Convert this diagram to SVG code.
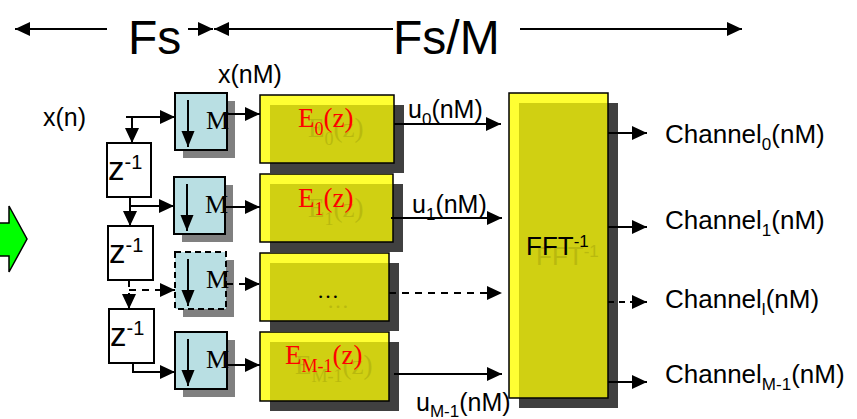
<svg xmlns="http://www.w3.org/2000/svg" width="857" height="419" viewBox="0 0 857 419">
<style>
.ln{stroke:#000;stroke-width:2;fill:none}
.dash{stroke-dasharray:7,6}
.sans{font-family:"Liberation Sans",Arial,sans-serif;fill:#000}
.serif{font-family:"Liberation Serif","Times New Roman",serif}
.mbox{fill:#b9dfe3;stroke:#000;stroke-width:2}
.msh{fill:#808080}
.zbox{fill:#fff;stroke:#000;stroke-width:2}
.ysh{fill:#404040}
.yb{fill:#ffff33}
.yo{fill:#d0d012}
.yst{fill:none;stroke:#000;stroke-width:1.5}
.et{fill:#ff0000;font-size:27px}
.gt{fill:#b9b90e}
.mt{font-size:26px;fill:#000}
</style>
<defs>
<marker id="ah" markerUnits="userSpaceOnUse" markerWidth="16" markerHeight="14" refX="15" refY="7" orient="auto">
<path d="M0,0 L15,7 L0,14 z" fill="#000"/>
</marker>
<marker id="ahs" markerUnits="userSpaceOnUse" markerWidth="14" markerHeight="16" refX="16" refY="6.5" orient="auto">
<path d="M0,0 L16,6.5 L0,13 z" fill="#000"/>
</marker>
</defs>

<!-- top rate annotations -->
<g id="rates">
<text class="sans" x="128" y="54" font-size="48">Fs</text>
<text class="sans" x="393" y="54" font-size="48">Fs/M</text>
</g>

<!-- green arrow -->
<g id="green-arrow">
<polygon points="-5,223 9,223 9,206 27,239 9,272 9,256 -5,256" fill="#00ff00" stroke="#000" stroke-width="1.5"/>
</g>

<!-- labels -->
<g id="labels">
<text class="sans" x="43" y="126" font-size="25">x(n)</text>
<text class="sans" x="218" y="83" font-size="25">x(nM)</text>
<text class="sans" x="408" y="118" font-size="25">u<tspan font-size="17" dy="7">0</tspan><tspan dy="-7">(nM)</tspan></text>
<text class="sans" x="412" y="213" font-size="25">u<tspan font-size="17" dy="7">1</tspan><tspan dy="-7">(nM)</tspan></text>
<text class="sans" x="416" y="411" font-size="25">u<tspan font-size="17" dy="6">M-1</tspan><tspan dy="-6">(nM)</tspan></text>
<text class="sans" x="665" y="143" font-size="26">Channel<tspan font-size="17" dy="7">0</tspan><tspan dy="-7">(nM)</tspan></text>
<text class="sans" x="665" y="229" font-size="26">Channel<tspan font-size="17" dy="7">1</tspan><tspan dy="-7">(nM)</tspan></text>
<text class="sans" x="665" y="308" font-size="26">Channel<tspan font-size="17" dy="7">l</tspan><tspan dy="-7">(nM)</tspan></text>
<text class="sans" x="665" y="383" font-size="26">Channel<tspan font-size="17" dy="7">M-1</tspan><tspan dy="-7">(nM)</tspan></text>
</g>

<!-- delay boxes -->
<g id="z1"><rect class="zbox" x="107" y="143" width="44" height="54"/><text class="sans" x="108" y="180" font-size="33">z<tspan font-size="20" dy="-11">-1</tspan></text></g>
<g id="z2"><rect class="zbox" x="108" y="226" width="45" height="54"/><text class="sans" x="109" y="263" font-size="33">z<tspan font-size="20" dy="-11">-1</tspan></text></g>
<g id="z3"><rect class="zbox" x="109" y="309" width="45" height="54"/><text class="sans" x="110" y="346" font-size="33">z<tspan font-size="20" dy="-11">-1</tspan></text></g>

<!-- decimators -->
<g id="m1"><rect class="msh" x="183" y="101" width="52" height="57"/><rect class="mbox" x="175" y="93" width="52" height="57"/>
<line class="ln" x1="188" y1="100" x2="188" y2="147" marker-end="url(#ahs)"/><text class="serif mt" x="206" y="129">M</text></g>
<g id="m2"><rect class="msh" x="182" y="185" width="51" height="57"/><rect class="mbox" x="174" y="177" width="51" height="57"/>
<line class="ln" x1="187" y1="184" x2="187" y2="231" marker-end="url(#ahs)"/><text class="serif mt" x="205" y="213">M</text></g>
<g id="m3"><rect class="msh" x="183" y="260" width="51" height="57"/><rect class="mbox" x="175" y="252" width="51" height="57" style="stroke-dasharray:6,4"/>
<line class="ln" x1="188" y1="259" x2="188" y2="306" marker-end="url(#ahs)"/><text class="serif mt" x="206" y="288">M</text></g>
<g id="m4"><rect class="msh" x="183" y="340" width="52" height="57"/><rect class="mbox" x="175" y="332" width="52" height="57"/>
<line class="ln" x1="188" y1="339" x2="188" y2="386" marker-end="url(#ahs)"/><text class="serif mt" x="206" y="368">M</text></g>

<!-- polyphase filters -->
<g id="e0">
<rect class="ysh" x="270" y="105" width="134" height="68"/><rect class="yb" x="260" y="95" width="134" height="68"/><rect class="yo" x="270" y="105" width="124" height="58"/>
<text class="serif et gt" x="308" y="137">E<tspan font-size="18" dy="8">0</tspan><tspan dy="-8">(z)</tspan></text>
<text class="serif et" x="298" y="127">E<tspan font-size="18" dy="8">0</tspan><tspan dy="-8">(z)</tspan></text>
<rect class="yst" x="260" y="95" width="134" height="68"/>
</g>
<g id="e1">
<rect class="ysh" x="270" y="184" width="133" height="68"/><rect class="yb" x="260" y="174" width="133" height="68"/><rect class="yo" x="270" y="184" width="123" height="58"/>
<text class="serif et gt" x="308" y="217">E<tspan font-size="18" dy="8">1</tspan><tspan dy="-8">(z)</tspan></text>
<text class="serif et" x="298" y="207">E<tspan font-size="18" dy="8">1</tspan><tspan dy="-8">(z)</tspan></text>
<rect class="yst" x="260" y="174" width="133" height="68"/>
</g>
<g id="e2">
<rect class="ysh" x="270" y="263" width="129" height="68"/><rect class="yb" x="260" y="253" width="129" height="68"/><rect class="yo" x="270" y="263" width="119" height="58"/>
<text class="serif gt" x="327" y="308" font-size="22">…</text>
<text class="serif" x="317" y="298" font-size="22" fill="#000">…</text>
<rect class="yst" x="260" y="253" width="129" height="68"/>
</g>
<g id="e3">
<rect class="ysh" x="270" y="342" width="129" height="69"/><rect class="yb" x="260" y="332" width="129" height="69"/><rect class="yo" x="270" y="342" width="119" height="59"/>
<text class="serif et gt" x="295" y="374">E<tspan font-size="18" dy="8">M-1</tspan><tspan dy="-8">(z)</tspan></text>
<text class="serif et" x="285" y="364">E<tspan font-size="18" dy="8">M-1</tspan><tspan dy="-8">(z)</tspan></text>
<rect class="yst" x="260" y="332" width="129" height="69"/>
</g>

<!-- IFFT -->
<g id="fft">
<rect class="ysh" x="519" y="103" width="99" height="305"/><rect class="yb" x="509" y="93" width="99" height="305"/><rect class="yo" x="519" y="103" width="89" height="295"/>
<text class="sans gt" x="536" y="265" font-size="26">FFT<tspan font-size="17" dy="-8">-1</tspan></text>
<text class="sans" x="526" y="255" font-size="26">FFT<tspan font-size="17" dy="-8">-1</tspan></text>
<rect class="yst" x="509" y="93" width="99" height="305"/>
</g>

<!-- connectors -->
<g id="connectors">
<line class="ln" x1="107" y1="29" x2="15" y2="29" marker-end="url(#ah)"/>
<line class="ln" x1="188" y1="29" x2="213" y2="29" marker-end="url(#ah)"/>
<line class="ln" x1="393" y1="29" x2="214" y2="29" marker-end="url(#ah)"/>
<line class="ln" x1="520" y1="29" x2="742" y2="29" marker-end="url(#ah)"/>

<line class="ln" x1="126" y1="117" x2="175" y2="117" marker-end="url(#ah)"/>
<line class="ln" x1="132" y1="117" x2="132" y2="143" marker-end="url(#ah)"/>
<line class="ln" x1="130" y1="197" x2="130" y2="226" marker-end="url(#ah)"/>
<line class="ln" x1="130" y1="206" x2="174" y2="206" marker-end="url(#ah)"/>
<line class="ln dash" x1="129" y1="280" x2="129" y2="309" marker-end="url(#ah)"/>
<line class="ln dash" x1="129" y1="290" x2="175" y2="290" marker-end="url(#ah)"/>
<polyline class="ln" points="133,363 133,372 175,372" marker-end="url(#ah)"/>

<line class="ln" x1="227" y1="114" x2="260" y2="114" marker-end="url(#ah)"/>
<line class="ln" x1="225" y1="207" x2="260" y2="207" marker-end="url(#ah)"/>
<line class="ln dash" x1="226" y1="284" x2="260" y2="284" marker-end="url(#ah)"/>
<line class="ln" x1="227" y1="365" x2="260" y2="365" marker-end="url(#ah)"/>

<line class="ln" x1="394" y1="124" x2="501" y2="124" marker-end="url(#ah)"/>
<line class="ln" x1="391" y1="218" x2="502" y2="218" marker-end="url(#ah)"/>
<line class="ln dash" x1="389" y1="293" x2="502" y2="293" marker-end="url(#ah)"/>
<line class="ln" x1="394" y1="374" x2="502" y2="374" marker-end="url(#ah)"/>

<line class="ln" x1="608" y1="133" x2="647" y2="133" marker-end="url(#ah)"/>
<line class="ln" x1="608" y1="227" x2="647" y2="227" marker-end="url(#ah)"/>
<line class="ln" x1="608" y1="302" x2="647" y2="302" marker-end="url(#ah)" style="stroke-dasharray:6,5"/>
<line class="ln" x1="608" y1="382" x2="647" y2="382" marker-end="url(#ah)"/>
</g>
</svg>
